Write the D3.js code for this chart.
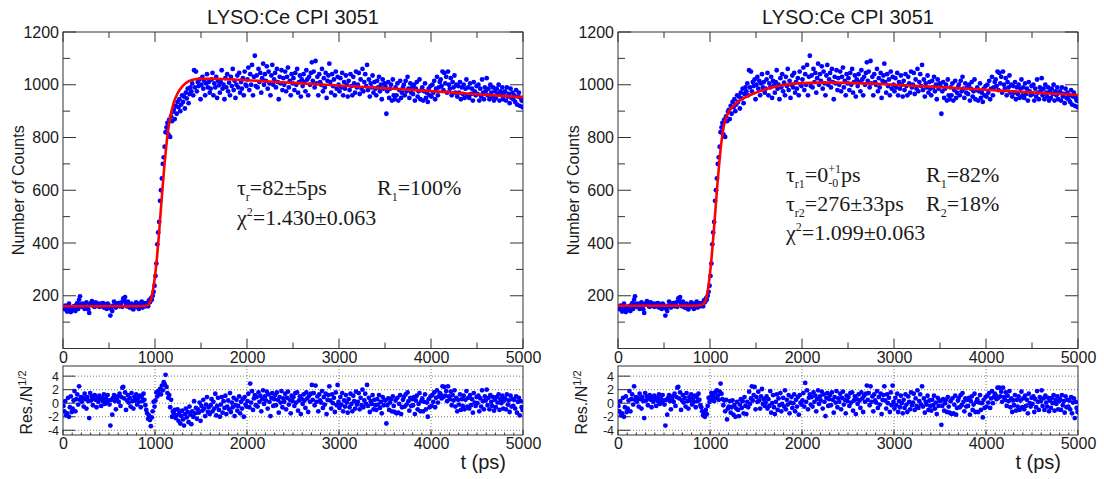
<!DOCTYPE html>
<html><head><meta charset="utf-8">
<script src="https://cdn.jsdelivr.net/npm/d3@7"></script>
<style>
body{margin:0;background:#fff}
svg{display:block}
text{font-family:"Liberation Sans",Arial,Helvetica,sans-serif;fill:#1a1a1a}
.ann text{font-family:"Liberation Serif","Times New Roman",serif}
</style>
</head><body>
<svg id="c" width="1104" height="479"></svg>
<script>
// ---------------- data ----------------
const chartTitle = "LYSO:Ce CPI 3051";
// bin centres (ps), 10 ps bins
const timeBins = d3.range(5, 5000, 10);
// measured counts per bin (same data set in both panels)
const counts = [
155,150,162,148,140,158,170,145,138,152,
145,160,148,142,165,172,150,185,198,168,
158,170,165,150,162,175,155,148,135,168,
172,180,165,160,158,175,168,162,170,158,
165,170,160,172,155,168,162,150,170,165,
158,125,150,142,162,178,160,155,170,165,
172,160,168,175,158,190,182,195,172,160,
178,165,155,162,170,152,148,160,165,175,
158,170,150,162,168,178,155,165,172,160,
165,172,160,182,175,190,185,200,215,238,
275,322,395,440,480,560,600,645,700,725,
765,820,838,855,812,868,802,880,862,898,
905,870,920,890,935,915,945,900,925,960,
935,955,910,970,948,985,930,965,990,975,
1005,960,1055,990,1050,975,1010,995,1020,945,
1000,1030,985,1015,960,1005,1040,990,1010,970,
985,1020,1045,960,1005,990,1030,950,1015,998,
970,1010,1055,985,1000,945,1025,990,1040,975,
1008,960,1030,995,1060,980,1015,950,1000,1035,
990,1045,970,1010,985,1025,960,1050,1000,995,
1020,1065,980,1040,1000,1075,960,1030,1110,995,
1035,990,1060,1010,1045,970,1025,1080,1000,1040,
1015,1070,985,1050,1005,960,1035,1075,1000,1020,
1045,990,1060,1010,945,1030,1005,1055,980,1025,
1000,1050,975,1030,1065,990,1015,960,1040,1005,
1025,980,1045,1000,1060,970,1010,1035,955,1020,
995,1040,1010,975,1055,1020,960,1030,1000,1045,
1085,1015,1050,990,1090,1005,1030,960,1040,1010,
1000,1060,975,1025,990,1045,950,1015,1035,1080,
1010,970,1040,995,1020,960,1050,985,1030,1000,
975,1025,990,1045,960,1010,985,1035,1000,955,
1015,980,1040,995,960,1030,1005,970,1050,990,
1000,1045,965,1020,985,1060,975,1010,1040,995,
1075,980,1020,955,1005,990,1035,970,1010,985,
960,1015,990,1030,975,1000,945,1020,985,1005,
995,890,975,1010,950,985,1000,940,1020,960,
945,990,960,1005,940,980,1015,950,970,990,
1000,960,1015,975,1030,985,950,1005,970,990,
965,1000,940,985,1010,955,975,1020,945,980,
990,940,975,1005,950,970,935,985,960,995,
955,1000,970,1015,945,985,1030,960,990,1010,
1020,995,1050,980,1045,1005,1030,970,1050,1000,
985,1025,960,1010,990,1035,970,1000,955,995,
970,1010,945,990,965,1000,950,985,1020,960,
990,950,1005,965,985,940,1010,975,960,995,
965,1000,940,985,955,1020,970,945,990,975,
1025,960,985,945,1000,970,955,990,940,975,
950,985,965,1000,940,975,960,990,945,970,
975,940,990,955,965,930,985,950,970,945,
960,935,980,925,955,970,920,950,940,915
];
// residuals (data - fit)/sqrt(N), single-component rise fit (left)
const residOne = [
-0.4,-1.2,0.3,-1.8,-1.5,0.8,-2.0,-0.6,1.0,-1.3,
-0.8,0.4,1.8,-1.2,0.6,1.3,-0.2,2.5,0.5,0.9,
0.2,0.8,-0.5,1.4,0.6,-0.8,0.9,0.3,-2.2,1.5,
0.4,1.0,-0.3,0.7,1.2,0.5,-0.6,0.9,0.2,1.1,
0.6,-0.4,0.8,0.3,1.3,-0.1,0.7,0.2,1.2,0.4,
-0.2,-3.3,0.5,-1.7,0.8,1.2,0.3,-0.9,0.6,1.0,
0.2,1.4,-0.4,0.9,2.3,2.4,0.7,1.6,-1.0,0.4,
1.2,0.1,0.8,-0.5,1.5,0.3,-0.8,0.9,0.4,1.3,
-0.2,0.7,0.2,1.1,-0.6,0.9,0.3,1.4,0.5,-0.3,
-1.0,-1.5,-2.3,-1.8,-2.5,-3.4,-2.1,-1.2,0.2,-0.5,
0.4,1.6,1.0,1.8,1.4,2.1,1.3,2.6,1.9,3.1,
2.8,4.2,2.4,1.5,0.8,1.2,-0.6,0.5,-2.0,-1.2,
-1.5,-1.0,-2.2,-1.8,-0.9,-2.6,-1.4,-3.0,-1.9,-1.1,
-2.4,-3.3,-1.6,-0.8,-2.1,-1.3,-2.8,-0.5,-1.7,-3.1,
-1.2,-2.0,0.3,-1.5,-0.7,-2.3,-0.9,-1.4,0.1,-2.6,
-0.4,-1.1,0.5,-0.8,-1.9,-0.2,0.9,-1.3,-0.6,-1.6,
-0.3,0.6,-1.2,0.2,-0.8,1.4,-1.8,-0.4,0.8,-1.0,
-2.0,-0.2,0.9,-1.4,0.3,-0.7,1.1,-1.6,-0.5,0.4,
-0.9,1.5,-1.3,0.1,-0.6,0.8,-1.9,-0.3,0.5,-1.1,
-0.4,1.0,-1.5,0.2,-0.8,0.6,-2.0,0.9,-0.2,-0.5,
0.3,1.4,-0.6,2.9,0.1,1.8,-1.0,0.7,1.2,-0.3,
0.9,-0.5,1.6,0.2,1.1,-1.2,0.6,1.9,-0.1,1.0,
0.4,1.7,-0.8,1.3,0.2,-1.9,0.8,1.5,-0.4,0.6,
1.2,-0.3,1.6,0.5,-1.4,0.9,0.1,1.8,-0.6,0.7,
0.2,1.4,-0.9,0.8,1.7,-0.2,0.5,-1.5,1.1,0.3,
0.9,-0.4,1.5,0.1,1.6,-1.1,0.4,1.0,-1.6,0.6,
-0.1,1.3,0.4,-0.7,1.6,0.7,-1.3,1.1,0.2,1.4,
2.7,0.5,1.5,-0.3,2.6,0.2,1.0,-1.2,1.3,0.4,
0.1,1.8,-0.7,0.9,-0.2,1.4,-1.6,0.5,1.2,2.5,
0.4,-0.8,1.3,0.0,0.8,-1.3,1.6,-0.3,2.7,0.2,
-0.7,0.9,-0.2,1.5,-1.2,0.4,-0.5,1.2,0.1,-1.4,
0.6,-0.6,1.4,-0.1,-1.2,1.1,0.3,-0.8,1.7,-0.2,
0.2,1.5,-0.9,0.8,-0.3,2.0,-0.6,0.4,1.4,-0.1,
2.7,-0.4,0.8,-1.3,0.3,-0.1,1.2,-0.9,0.5,-0.3,
-1.0,0.6,-0.2,1.2,-0.7,0.2,-1.5,0.9,-0.3,0.5,
0.4,-3.0,-0.3,0.7,-1.0,0.1,0.6,-1.2,1.0,-0.4,
-1.3,0.4,-1.5,0.8,-1.4,-0.1,1.2,-1.6,-0.6,0.5,
0.9,-0.5,1.3,-0.2,1.6,0.3,-1.1,0.8,-0.4,0.6,
-0.3,0.9,-1.6,0.4,1.1,-0.9,-0.1,1.5,-1.2,0.3,
0.7,-1.2,0.2,1.3,-0.9,0.1,-2.0,0.6,-0.6,1.0,
-0.4,1.2,0.2,1.6,-0.6,0.8,1.9,0.1,1.0,1.5,
1.3,0.7,2.5,0.9,2.4,1.1,1.8,0.3,2.5,1.0,
0.6,1.7,-0.3,1.2,0.4,1.9,-0.5,0.8,-1.2,0.5,
-0.2,1.3,-1.0,0.6,-0.4,1.1,-0.9,0.5,1.8,-0.5,
0.8,-0.8,1.2,-0.3,0.6,-1.4,1.5,0.1,-0.4,0.9,
0.0,1.1,-1.2,0.7,-0.5,1.9,0.3,-0.9,1.0,0.4,
2.0,-0.3,0.8,-0.9,1.2,0.2,-0.4,0.9,-1.1,0.5,
-0.6,0.9,0.1,1.3,-1.0,0.6,0.0,1.1,-0.8,0.4,
0.7,-0.9,1.3,-0.2,0.4,-1.3,1.1,-0.5,0.6,-0.4,
0.5,-0.8,1.0,-1.4,0.2,0.8,-1.8,0.3,-0.6,-1.0
];
// residuals, two-component rise fit (right)
const residTwo = [
-0.4,-1.2,0.3,-1.8,-1.5,0.8,-2.0,-0.6,1.0,-1.3,
-0.8,0.4,1.8,-1.2,0.6,1.3,-0.2,2.5,0.5,0.9,
0.2,0.8,-0.5,1.4,0.6,-0.8,0.9,0.3,-2.2,1.5,
0.4,1.0,-0.3,0.7,1.2,0.5,-0.6,0.9,0.2,1.1,
0.6,-0.4,0.8,0.3,1.3,-0.1,0.7,0.2,1.2,0.4,
-0.2,-3.3,0.5,-1.7,0.8,1.2,0.3,-0.9,0.6,1.0,
0.2,1.4,-0.4,0.9,2.3,2.4,0.7,1.6,-1.0,0.4,
1.2,0.1,0.8,-0.5,1.5,0.3,-0.8,0.9,0.4,1.3,
-0.2,0.7,0.2,1.1,-0.6,0.9,0.3,1.4,0.5,-0.3,
-0.6,-1.2,-1.8,-1.4,-2.0,-1.0,-1.6,-0.4,0.8,0.2,
0.9,1.5,0.6,1.2,0.3,1.6,0.8,1.9,1.1,0.5,
1.7,2.9,1.4,0.6,-0.3,0.4,-1.2,0.5,-2.4,-0.8,
-0.5,0.3,-1.4,-0.6,0.4,-1.7,-0.3,-2.0,-0.8,0.2,
-1.0,-1.9,-0.2,0.6,-0.7,0.3,-1.5,0.9,-0.4,-1.6,
0.2,-0.6,1.7,-0.1,0.7,2.5,0.4,1.2,2.4,-0.9,
0.9,0.2,1.7,0.4,-0.8,1.0,2.1,-0.1,0.6,-0.4,
0.1,1.0,-0.8,0.6,-0.4,1.8,-1.4,0.0,1.2,-0.6,
-1.6,0.2,1.3,-1.0,0.7,-0.3,1.5,-1.2,-0.1,0.8,
-0.5,1.9,-0.9,0.5,-0.2,1.2,-1.5,0.1,0.9,-0.7,
0.0,1.3,-1.2,0.5,-0.5,0.9,-1.7,1.2,0.1,-0.2,
0.4,1.5,-0.5,3.0,0.2,1.9,-0.9,0.8,1.3,-0.2,
0.9,-0.5,1.6,0.2,1.1,-1.2,0.6,1.9,-0.1,1.0,
0.4,1.7,-0.8,1.3,0.2,-1.9,0.8,1.5,-0.4,0.6,
1.2,-0.3,1.6,0.5,-1.4,0.9,0.1,1.8,-0.6,0.7,
0.2,1.4,-0.9,0.8,1.7,-0.2,0.5,-1.5,1.1,0.3,
0.9,-0.4,1.5,0.1,1.6,-1.1,0.4,1.0,-1.6,0.6,
-0.1,1.3,0.4,-0.7,1.6,0.7,-1.3,1.1,0.2,1.4,
2.6,0.5,1.5,-0.3,2.5,0.2,1.0,-1.2,1.3,0.4,
0.1,1.8,-0.7,0.9,-0.2,1.4,-1.6,0.5,1.2,2.5,
0.4,-0.8,1.3,0.0,0.8,-1.3,1.6,-0.3,2.6,0.2,
-0.8,0.8,-0.3,1.4,-1.3,0.3,-0.6,1.1,0.0,-1.5,
0.5,-0.7,1.3,-0.2,-1.3,1.0,0.2,-0.9,1.6,-0.3,
0.1,1.4,-1.0,0.7,-0.4,1.9,-0.7,0.3,1.3,-0.2,
2.5,-0.5,0.7,-1.4,0.2,-0.2,1.1,-1.0,0.4,-0.4,
-1.1,0.5,-0.3,1.1,-0.8,0.1,-1.6,0.8,-0.4,0.4,
0.3,-3.2,-0.4,0.6,-1.1,0.0,0.5,-1.3,0.9,-0.5,
-1.4,0.3,-1.6,0.7,-1.5,-0.2,1.1,-1.7,-0.7,0.4,
0.8,-0.6,1.2,-0.3,1.5,0.2,-1.2,0.7,-0.5,0.5,
-0.4,0.8,-1.7,0.3,1.0,-1.0,-0.2,1.4,-1.3,0.2,
0.6,-1.3,0.1,1.2,-1.0,0.0,-2.1,0.5,-0.7,0.9,
-0.5,1.1,0.1,1.5,-0.7,0.7,1.8,0.0,0.9,1.4,
1.2,0.6,2.3,0.8,2.3,1.0,1.7,0.2,2.3,0.9,
0.5,1.6,-0.4,1.1,0.3,1.8,-0.6,0.7,-1.3,0.4,
-0.3,1.2,-1.1,0.5,-0.5,1.0,-1.0,0.4,1.7,-0.6,
0.7,-0.9,1.1,-0.4,0.5,-1.5,1.4,0.0,-0.5,0.8,
-0.1,1.0,-1.3,0.6,-0.6,1.8,0.2,-1.0,0.9,0.3,
1.9,-0.4,0.7,-1.0,1.1,0.1,-0.5,0.8,-1.2,0.4,
-0.7,0.8,0.0,1.2,-1.1,0.5,-0.1,1.0,-0.9,0.3,
0.6,-1.0,1.2,-0.3,0.3,-1.4,1.0,-0.6,0.5,-0.5,
0.4,-0.9,0.9,-1.5,0.1,0.7,-2.2,0.2,-0.7,-1.3
];
// fitted curves
const fitOneT = [0,800,900,940,960,980,1000,1020,1040,1060,1080,1100,1120,1140,1160,1180,1200,1250,1300,1350,1400,1500,1600,2000,2500,3000,3500,4000,4500,5000];
const fitOneN = [160,160,162,172,190,225,275,340,420,510,600,685,760,820,865,900,928,970,995,1010,1018,1023,1023,1017,1007,997,987,976,964,953];
const fitTwoT = [0,800,900,940,960,980,1000,1020,1040,1060,1080,1100,1120,1140,1160,1180,1200,1250,1300,1400,1500,1600,1700,1800,2000,2200,2500,3000,3500,4000,4500,5000];
const fitTwoN = [162,162,164,174,190,228,285,355,440,530,620,700,770,822,858,880,895,918,935,955,970,983,992,999,1006,1008,1007,1000,991,981,971,961];
// axes
const xTicks = [0,1000,2000,3000,4000,5000];
const xMinor = [500,1500,2500,3500,4500];
const yTicks = [200,400,600,800,1000,1200];
const yMinor = [100,300,500,700,900,1100];
const resTicks = [-4,-2,0,2,4];
const resMinorX = d3.range(100, 5000, 100);

// ---------------- drawing ----------------
const svg = d3.select("#c");
const mainTop = 32, mainBot = 348.5, resTop = 366, resBot = 435;

function seqText(g, x, y, parts){
  let cx = x, lastStart = x;
  parts.forEach(p => {
    const px = p.stack ? lastStart : cx;
    const t = g.append("text").attr("x", px).attr("y", y + (p.dy || 0))
      .attr("font-size", p.s || 22).text(p.t);
    const w = t.node().getComputedTextLength();
    if (p.stack) cx = Math.max(cx, px + w);
    else { lastStart = px; cx = px + w; }
  });
}

function panel(L, R, fitT, fitN, resid, id, annot){
  const g = svg.append("g");
  const x = d3.scaleLinear().domain([0,5000]).range([L,R]);
  const y = d3.scaleLinear().domain([0,1200]).range([mainBot, mainTop]);
  const yr = d3.scaleLinear().domain([-4.7,5.5]).range([resBot, resTop]);

  const defs = svg.append("defs");
  defs.append("clipPath").attr("id","cm"+id).append("rect")
    .attr("x",L).attr("y",mainTop).attr("width",R-L).attr("height",mainBot-mainTop);
  defs.append("clipPath").attr("id","cr"+id).append("rect")
    .attr("x",L).attr("y",resTop).attr("width",R-L).attr("height",resBot-resTop);

  // title
  g.append("text").attr("x",(L+R)/2).attr("y",24).attr("text-anchor","middle")
    .attr("font-size",20).text(chartTitle);

  // ---- main plot ticks
  const tk = g.append("g").attr("stroke","#333").attr("stroke-width",1);
  const xt = (v,len,yy,dir) => tk.append("line").attr("x1",x(v)).attr("x2",x(v)).attr("y1",yy).attr("y2",yy+dir*len);
  xTicks.forEach(v => { xt(v,10,mainBot,-1); xt(v,10,mainTop,1); });
  xMinor.forEach(v => { xt(v,6,mainBot,-1); xt(v,6,mainTop,1); });
  const yt = (v,len) => {
    tk.append("line").attr("x1",L).attr("x2",L+len).attr("y1",y(v)).attr("y2",y(v));
    tk.append("line").attr("x1",R).attr("x2",R-len).attr("y1",y(v)).attr("y2",y(v));
  };
  yTicks.forEach(v => yt(v,13));
  yMinor.forEach(v => yt(v,7));

  // main axes labels via d3 axes
  const ax = g.append("g").attr("transform",`translate(0,${mainBot})`)
    .call(d3.axisBottom(x).tickValues(xTicks).tickSize(0).tickPadding(3).tickFormat(d3.format("d")));
  const ay = g.append("g").attr("transform",`translate(${L},0)`)
    .call(d3.axisLeft(y).tickValues(yTicks).tickSize(0).tickPadding(4).tickFormat(d3.format("d")));
  [ax,ay].forEach(a => { a.select(".domain").remove(); a.selectAll("text").attr("font-size",16).attr("font-family",null).attr("fill","#1a1a1a"); });

  g.append("text").attr("transform",`translate(${L-39},${(mainTop+mainBot)/2}) rotate(-90)`)
    .attr("text-anchor","middle").attr("font-size",16).text("Number of Counts");

  // frame
  g.append("rect").attr("x",L).attr("y",mainTop).attr("width",R-L).attr("height",mainBot-mainTop)
    .attr("fill","none").attr("stroke","#333").attr("stroke-width",1);

  // points
  g.append("g").attr("clip-path",`url(#cm${id})`).selectAll("circle").data(counts).join("circle")
    .attr("cx",(d,i)=>x(timeBins[i])).attr("cy",d=>y(d)).attr("r",2.4).attr("fill","#0000ff");

  // fit line
  const line = d3.line().x(d=>x(d[0])).y(d=>y(d[1])).curve(d3.curveMonotoneX);
  g.append("path").attr("clip-path",`url(#cm${id})`).datum(fitT.map((t,i)=>[t,fitN[i]]))
    .attr("d",line).attr("fill","none").attr("stroke","#ff0000").attr("stroke-width",2.6);

  // annotation
  const an = g.append("g").attr("class","ann");
  annot(an);

  // ---- residual panel
  const grid = g.append("g").attr("stroke","#777").attr("stroke-width",1).attr("stroke-dasharray","1,2");
  resTicks.forEach(v => grid.append("line").attr("x1",L).attr("x2",R).attr("y1",yr(v)).attr("y2",yr(v)));
  xTicks.slice(1,-1).forEach(v => grid.append("line").attr("x1",x(v)).attr("x2",x(v)).attr("y1",resTop).attr("y2",resBot));

  const rk = g.append("g").attr("stroke","#333").attr("stroke-width",1);
  resTicks.forEach(v => {
    rk.append("line").attr("x1",L).attr("x2",L+12).attr("y1",yr(v)).attr("y2",yr(v));
  });
  xTicks.forEach(v => rk.append("line").attr("x1",x(v)).attr("x2",x(v)).attr("y1",resBot).attr("y2",resBot-5));
  resMinorX.forEach(v => rk.append("line").attr("x1",x(v)).attr("x2",x(v)).attr("y1",resBot).attr("y2",resBot-2.5));

  const rx = g.append("g").attr("transform",`translate(0,${resBot})`)
    .call(d3.axisBottom(x).tickValues(xTicks).tickSize(0).tickPadding(3).tickFormat(d3.format("d")));
  rx.select(".domain").remove();
  rx.selectAll("text").attr("font-size",16).attr("font-family",null).attr("fill","#1a1a1a");
  const ry = g.append("g").attr("transform",`translate(${L},0)`)
    .call(d3.axisLeft(yr).tickValues(resTicks).tickSize(0).tickPadding(4).tickFormat(d => d < 0 ? "-" + Math.abs(d) : String(d)));
  ry.select(".domain").remove();
  ry.selectAll("text").attr("font-size",12.5).attr("font-family",null).attr("fill","#1a1a1a");

  g.append("rect").attr("x",L).attr("y",resTop).attr("width",R-L).attr("height",resBot-resTop)
    .attr("fill","none").attr("stroke","#333").attr("stroke-width",1);

  g.append("g").attr("clip-path",`url(#cr${id})`).selectAll("circle").data(resid).join("circle")
    .attr("cx",(d,i)=>x(timeBins[i])).attr("cy",d=>yr(d)).attr("r",2.4).attr("fill","#0000ff");

  const rl = g.append("text").attr("transform",`translate(${L-31},${(resTop+resBot)/2+2}) rotate(-90)`)
    .attr("text-anchor","middle").attr("font-size",16);
  rl.append("tspan").text("Res./N");
  rl.append("tspan").attr("dy",-6).attr("font-size",11).text("1/2");

  g.append("text").attr("x",R-17).attr("y",469).attr("text-anchor","end")
    .attr("font-size",20).text("t (ps)");
}

panel(63, 523, fitOneT, fitOneN, residOne, "a", an => {
  seqText(an, 237, 195, [{t:"τ"},{t:"r",s:12,dy:6},{t:"=82±5ps"}]);
  seqText(an, 377, 195, [{t:"R"},{t:"1",s:12,dy:6},{t:"=100%"}]);
  seqText(an, 237, 225, [{t:"χ"},{t:"2",s:12,dy:-9},{t:"=1.430±0.063"}]);
});
panel(618, 1078, fitTwoT, fitTwoN, residTwo, "b", an => {
  seqText(an, 786, 182, [{t:"τ"},{t:"r1",s:12,dy:6},{t:"=0"},{t:"+1",s:12,dy:-9},{t:"-0",s:12,dy:5,stack:true},{t:"ps"}]);
  seqText(an, 926, 182, [{t:"R"},{t:"1",s:12,dy:6},{t:"=82%"}]);
  seqText(an, 786, 211, [{t:"τ"},{t:"r2",s:12,dy:6},{t:"=276±33ps"}]);
  seqText(an, 926, 211, [{t:"R"},{t:"2",s:12,dy:6},{t:"=18%"}]);
  seqText(an, 786, 240, [{t:"χ"},{t:"2",s:12,dy:-9},{t:"=1.099±0.063"}]);
});
</script>
</body></html>
